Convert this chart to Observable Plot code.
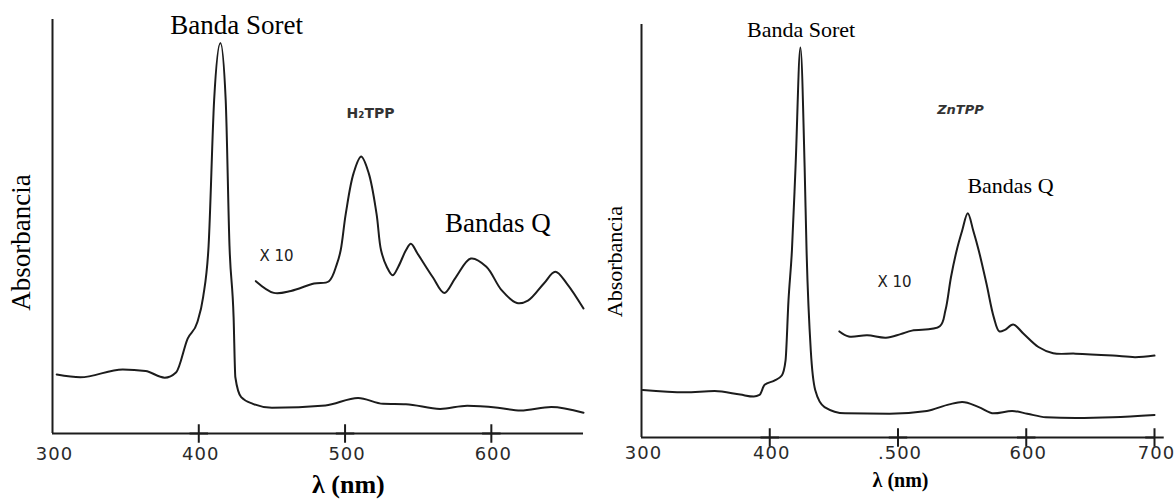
<!DOCTYPE html>
<html>
<head>
<meta charset="utf-8">
<script src="https://cdn.jsdelivr.net/npm/d3@7"></script>
<script src="https://cdn.jsdelivr.net/npm/@observablehq/plot@0.6"></script>
<style>
  html, body { margin: 0; padding: 0; background: #fff; }
  #wrap { position: relative; width: 1175px; height: 500px; overflow: hidden; background: #fff; }
  #wrap svg { position: absolute; top: 0; }
</style>
</head>
<body>
<div id="wrap"></div>
<script>
// ---------- Data: H2TPP (left panel) ----------
const h2Wavelength = [302.9, 319, 348, 363.6, 376.7, 384.6, 392.4, 399, 403, 406.7, 410.5, 414.8, 418.4, 421, 423.8, 425, 429, 437, 450, 486.6, 508.9, 526, 541.6, 565, 583.5, 604.5, 620, 641, 663];
const h2Absorbance = [0.151, 0.144, 0.164, 0.160, 0.143, 0.157, 0.243, 0.285, 0.35, 0.48, 0.854, 1.0, 0.854, 0.48, 0.298, 0.144, 0.093, 0.076, 0.066, 0.072, 0.091, 0.076, 0.075, 0.063, 0.071, 0.066, 0.059, 0.068, 0.053];
const h2x10Wavelength = [439, 451.3, 463, 478.8, 489, 494.5, 497, 500.5, 505.8, 511, 516.2, 521.5, 524.6, 528.5, 532.5, 536.4, 541.6, 545, 549.5, 560, 567.8, 575.7, 586, 596.6, 607, 617.5, 625, 635.9, 643.7, 651.6, 663];
const h2x10Absorbance = [0.39, 0.36, 0.365, 0.384, 0.39, 0.435, 0.469, 0.563, 0.666, 0.709, 0.666, 0.563, 0.469, 0.427, 0.405, 0.427, 0.469, 0.486, 0.461, 0.40, 0.36, 0.40, 0.448, 0.427, 0.367, 0.334, 0.34, 0.384, 0.414, 0.384, 0.32];

// ---------- Data: ZnTPP (right panel) ----------
const znWavelength = [301, 334, 357, 377, 387.6, 392, 396, 403.6, 409.4, 412.3, 414.6, 417.3, 420.1, 423.9, 427.2, 428.7, 432, 435.5, 442.7, 458.7, 493.5, 522.5, 540, 550, 563, 574.7, 589, 600.8, 615.3, 638.5, 667.5, 700];
const znAbsorbance = [0.122, 0.116, 0.119, 0.110, 0.105, 0.109, 0.135, 0.146, 0.159, 0.197, 0.351, 0.48, 0.693, 1.0, 0.693, 0.48, 0.223, 0.121, 0.078, 0.062, 0.061, 0.068, 0.085, 0.091, 0.078, 0.062, 0.068, 0.061, 0.052, 0.05, 0.052, 0.058];
const znx10Wavelength = [454.3, 461.6, 476, 490.6, 502, 510.9, 532.6, 537, 541.3, 545.7, 550, 554.4, 558.7, 563, 569, 574.7, 579, 583.4, 589.8, 597.9, 609.5, 621, 638.5, 667.5, 685, 700];
const znx10Absorbance = [0.272, 0.259, 0.262, 0.256, 0.265, 0.274, 0.285, 0.326, 0.411, 0.479, 0.530, 0.575, 0.53, 0.479, 0.394, 0.308, 0.272, 0.276, 0.29, 0.266, 0.232, 0.216, 0.215, 0.21, 0.206, 0.21];

// ---------- Ticks & labels ----------
const leftTicks = [300, 400, 500, 600];
const leftTickLabels = ["300", "400", "500", "600"];
const rightTicks = [300, 400, 500, 600, 700];
const rightTickLabels = ["300", "400", ".500", "600", "700"];

const yLabel = "Absorbancia";
const xLabel = "λ (nm)";
const soretLabel = "Banda Soret";
const qLabel = "Bandas Q";
const h2Name = "H₂TPP";
const znName = "ZnTPP";
const x10Label = "X 10";

const zipData = (xs, ys) => xs.map((x, i) => ({wl: x, a: ys[i]}));

const serif = "'Liberation Serif', 'Times New Roman', serif";
const sans = "'DejaVu Sans', sans-serif";
const ink = "#1c1c1c";

function panel(cfg) {
  const [x0, x1] = cfg.xDomain;
  const [y0, y1] = cfg.yDomain;
  const inner = cfg.ticks.filter(t => t > x0);
  const svg = Plot.plot({
    width: cfg.width, height: 500,
    marginLeft: cfg.ml, marginRight: cfg.mr, marginTop: cfg.mt, marginBottom: cfg.mb,
    x: {domain: cfg.xDomain, axis: null},
    y: {domain: cfg.yDomain, axis: null},
    style: {background: "#fff", color: ink},
    marks: [
      // axes frame
      Plot.ruleX([x0], {y1: y0, y2: y1, stroke: ink, strokeWidth: 2}),
      Plot.ruleY([y0], {x1: x0, x2: x1, stroke: ink, strokeWidth: 2}),
      // short tick marks crossing the axis line
      Plot.dot(inner, {x: d => d, y: y0, symbol: "plus", r: 6, stroke: ink, strokeWidth: 2}),
      // tick labels
      Plot.text(cfg.ticks, {x: d => d, y: y0, dy: cfg.tickDy, dx: 2, text: (d, i) => cfg.tickLabels[i], lineAnchor: "middle", fontFamily: sans, fontSize: 18, fill: "#2a2a2a"}),
      // spectra
      Plot.line(cfg.main, {x: "wl", y: "a", curve: "monotone-x", stroke: ink, strokeWidth: 2}),
      Plot.line(cfg.x10, {x: "wl", y: "a", curve: "catmull-rom", stroke: ink, strokeWidth: 2}),
      // annotations
      Plot.text([soretLabel], {x: cfg.soret[0], y: cfg.soret[1], text: d => d, lineAnchor: "bottom", fontFamily: serif, fontSize: cfg.bigFont, fill: "#000"}),
      Plot.text([qLabel], {x: cfg.q[0], y: cfg.q[1], text: d => d, lineAnchor: "bottom", fontFamily: serif, fontSize: cfg.bigFont, fill: "#000"}),
      Plot.text([cfg.name], {x: cfg.nameAt[0], y: cfg.nameAt[1], text: d => d, lineAnchor: "middle", fontFamily: sans, fontSize: cfg.nameFont, fontWeight: "bold", fill: "#333", fontStyle: cfg.nameStyle}),
      Plot.text([x10Label], {x: cfg.x10At[0], y: cfg.x10At[1], text: d => d, lineAnchor: "middle", fontFamily: sans, fontSize: 15, fill: "#222"}),
      Plot.text([yLabel], {x: x0, y: cfg.yLab[1], dx: cfg.yLab[0], text: d => d, rotate: -90, lineAnchor: "middle", fontFamily: serif, fontSize: cfg.bigFont, fill: "#000"}),
      Plot.text([xLabel], {x: cfg.xLab[0], y: y0, dy: cfg.xLab[1], text: d => d, lineAnchor: "bottom", fontFamily: serif, fontSize: cfg.xFont, fontWeight: "bold", fill: "#000"})
    ]
  });
  d3.select(svg).selectAll("text")
    .filter(function () { return cfg.tickLabels.includes(this.textContent); })
    .attr("letter-spacing", 1);
  svg.style.left = cfg.left + "px";
  return svg;
}

const wrap = document.getElementById("wrap");

wrap.appendChild(panel({
  left: 0, width: 590, ml: 52, mr: 7, mt: 19, mb: 67,
  xDomain: [300, 663], yDomain: [0, 1.06],
  ticks: leftTicks, tickLabels: leftTickLabels, tickDy: 21,
  main: zipData(h2Wavelength, h2Absorbance),
  x10: zipData(h2x10Wavelength, h2x10Absorbance),
  bigFont: 27, xFont: 26, nameFont: 14,
  soret: [425.8, 1.024], q: [604.5, 0.515],
  name: h2Name, nameAt: [517.4, 0.819], nameStyle: "normal",
  x10At: [453.1, 0.453],
  yLab: [-31, 0.489], xLab: [502.3, 59]
}));

wrap.appendChild(panel({
  left: 590, width: 585, ml: 51, mr: 21, mt: 24, mb: 63,
  xDomain: [300, 700], yDomain: [0, 1.059],
  ticks: rightTicks, tickLabels: rightTickLabels, tickDy: 16,
  main: zipData(znWavelength, znAbsorbance),
  x10: zipData(znx10Wavelength, znx10Absorbance),
  bigFont: 22, xFont: 20, nameFont: 13,
  soret: [424.4, 1.028], q: [587.7, 0.626],
  name: znName, nameAt: [548.7, 0.841], nameStyle: "italic",
  x10At: [497.3, 0.397],
  yLab: [-27, 0.451], xLab: [502, 49]
}));
</script>
</body>
</html>
